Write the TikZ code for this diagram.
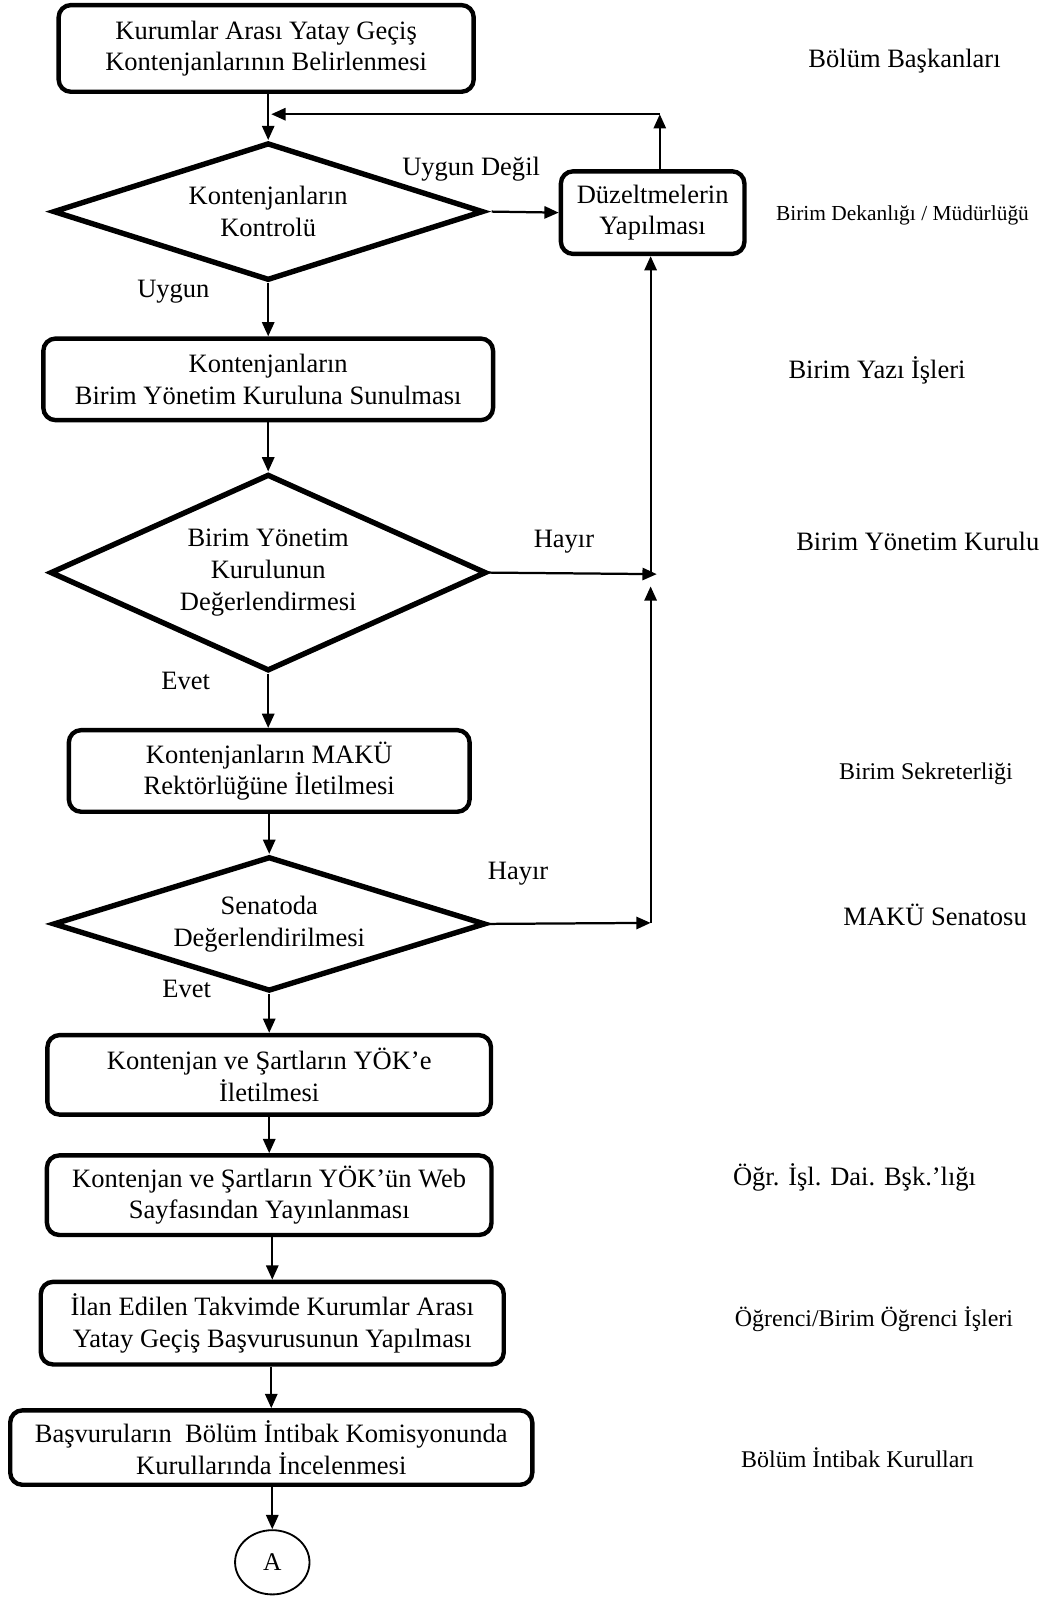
\documentclass[tikz,border=0pt]{standalone}
\usepackage{fontspec}
\setmainfont{Liberation Serif}
\usetikzlibrary{shapes.geometric,arrows.meta,calc}
\begin{document}
\begin{tikzpicture}[x=1pt,y=-1pt,
  big/.style={font=\fontsize{26}{31}\selectfont},
  mid/.style={font=\fontsize{23.5}{28}\selectfont},
  small/.style={font=\fontsize{21}{25}\selectfont},
  box/.style={draw,line width=4.3pt,rounded corners=12pt,align=center,inner sep=0pt,big},
  dia/.style={draw,diamond,line width=5.3pt,align=center,inner sep=0pt,aspect=3,big},
  arr/.style={line width=2.2pt,-{Triangle[length=14pt,width=12pt]}},
  lbl/.style={inner sep=0pt,big},
  side/.style={inner sep=0pt}]
\useasboundingbox (0,0) rectangle (1040.5,1568);

% main column
\node[box,minimum width=407pt,minimum height=85pt] (b1) at (261,47.5)
  {Kurumlar Arası Yatay Geçiş\\Kontenjanlarının Belirlenmesi};
\node[dia,minimum width=422pt,minimum height=135pt] (d1) at (263,207.5)
  {Kontenjanların\\Kontrolü};
\node[box,minimum width=180pt,minimum height=81pt] (fix) at (640,208.5)
  {Düzeltmelerin\\Yapılması};
\node[box,minimum width=441pt,minimum height=80pt] (b2) at (263,372)
  {Kontenjanların\\Birim Yönetim Kuruluna Sunulması};
\node[dia,minimum width=422pt,minimum height=193pt] (d2) at (263,561.5)
  {Birim Yönetim\\Kurulunun\\Değerlendirmesi};
\node[box,minimum width=393pt,minimum height=80pt] (b3) at (264,756)
  {Kontenjanların MAKÜ\\Rektörlüğüne İletilmesi};
\node[dia,minimum width=424pt,minimum height=132pt] (d3) at (264,906)
  {Senatoda\\Değerlendirilmesi};
\node[box,minimum width=435pt,minimum height=78pt] (b4) at (264,1054)
  {Kontenjan ve Şartların YÖK’e\\İletilmesi};
\node[box,minimum width=436pt,minimum height=78pt] (b5) at (264,1172)
  {Kontenjan ve Şartların YÖK’ün Web\\Sayfasından Yayınlanması};
\node[box,minimum width=454pt,minimum height=81pt] (b6) at (267,1297.5)
  {İlan Edilen Takvimde Kurumlar Arası\\Yatay Geçiş Başvurusunun Yapılması};
\node[box,minimum width=512pt,minimum height=73pt] (b7) at (266,1419.5)
  {Başvuruların~ Bölüm İntibak Komisyonunda\\Kurullarında İncelenmesi};
\node[ellipse,draw,line width=1.8pt,minimum width=73pt,minimum height=63pt,inner sep=0pt,font=\fontsize{25}{29}\selectfont] (A) at (267,1532) {A};

% helper coordinates
\coordinate (fbR) at (647,112);
\coordinate (fbL) at (263,112);
\coordinate (d1out) at (482,207.5);
\coordinate (j1) at (638,563);
\coordinate (j1b) at (638,575);
\coordinate (j2) at (638,905);

% connectors
\draw[arr] (b1.south -| d1.north) -- (d1.north);
\draw[arr] (d1.south) -- (d1.south |- b2.north);
\draw[arr] (b2.south -| d2.north) -- (d2.north);
\draw[arr] (d2.south) -- (d2.south |- b3.north);
\draw[arr] (b3.south -| d3.north) -- (d3.north);
\draw[arr] (d3.south) -- (d3.south |- b4.north);
\draw[arr] (b4.south) -- (b4.south |- b5.north);
\draw[arr] (b5.south -| b6.north) -- (b6.north);
\draw[arr] (b6.south -| b7.north) -- (b7.north);
\draw[arr] (b7.south -| A.north) -- (A.north);

\draw[arr] (fix.north -| fbR) -- (fbR);
\draw[arr] (fbR) -- ($(fbL)+(3,0)$);
\draw[arr] (d1out) -- (fix.west);
\draw[arr] (d2.east) -- ($(j1)+(6,0)$);
\draw[arr] (j1) -- (j1 |- fix.south);
\draw[arr] (j2) -- (j1b);
\draw[arr] (d3.east) -- (j2);

% branch labels
\node[lbl] (lUD) at (462,166) {Uygun Değil};
\node[lbl] (lU) at (170,286) {Uygun};
\node[lbl] (lH1) at (553,531) {Hayır};
\node[lbl] (lE1) at (182,668) {Evet};
\node[lbl] (lH2) at (508,857) {Hayır};
\node[lbl] (lE2) at (183,970) {Evet};

% responsible units
\node[side,big] (r1) at (887,60) {Bölüm Başkanları};
\node[side,small] (r2) at (885,211) {Birim Dekanlığı / Müdürlüğü};
\node[side,big] (r3) at (860,363) {Birim Yazı İşleri};
\node[side,big] (r4) at (900,531) {Birim Yönetim Kurulu};
\node[side,mid] (r5) at (908,759) {Birim Sekreterliği};
\node[side,big] (r6) at (917,897) {MAKÜ Senatosu};
\node[side,big] (r7) at (838,1155) {Öğr. İşl. Dai. Bşk.’lığı};
\node[side,mid] (r8) at (857,1294) {Öğrenci/Birim Öğrenci İşleri};
\node[side,mid] (r9) at (841,1429) {Bölüm İntibak Kurulları};
\end{tikzpicture}
\end{document}
